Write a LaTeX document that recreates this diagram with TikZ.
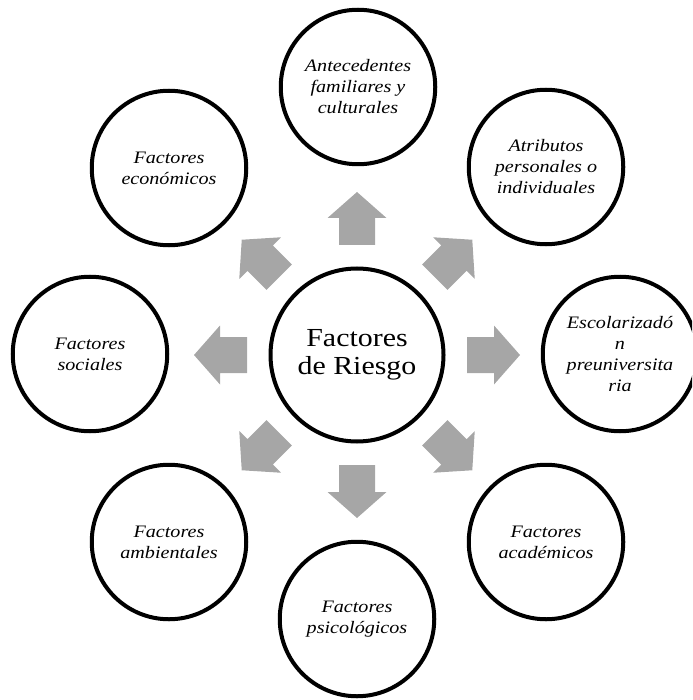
\documentclass[tikz,border=0pt]{standalone}
\usepackage{fontspec}
\setmainfont{Liberation Serif}[FakeStretch=1.15]
\definecolor{arrowgray}{RGB}{166,166,166}
\begin{document}
\begin{tikzpicture}[x=1pt,y=-1pt,
  bubble/.style={circle,draw=black,line width=4pt,minimum size=154.5pt,inner sep=0pt,align=center,font=\itshape\fontsize{17.5}{21}\selectfont},
  hub/.style={circle,draw=black,line width=4pt,minimum size=173pt,inner sep=0pt,align=center,font=\fontsize{26}{28}\selectfont},
  blockarrow/.style={fill=arrowgray}]
\useasboundingbox (0,0) rectangle (692,700);
\clip (0,0) rectangle (692,700);
\node[hub] (ctr) at (357,355) {Factores\\de Riesgo};
\node[bubble] (top) at (358,87) {Antecedentes\\familiares y\\culturales};
\node[bubble] (tr) at (546,167) {Atributos\\personales o\\individuales};
\node[bubble] (rt) at (620,354) {Escolarizadó\\n\\preuniversita\\ria};
\node[bubble] (br) at (546,542) {Factores\\académicos};
\node[bubble] (bt) at (357,619) {Factores\\psicológicos};
\node[bubble] (bl) at (169,542) {Factores\\ambientales};
\node[bubble] (lt) at (90,354) {Factores\\sociales};
\node[bubble] (tl) at (169,168) {Factores\\económicos};
\foreach \a in {0,45,...,315}{
  \fill[blockarrow, shift={(ctr.center)}, rotate=\a] (110,-18) -- (137,-18) -- (137,-29.5) -- (163,0) -- (137,29.5) -- (137,18) -- (110,18) -- cycle;
}
\end{tikzpicture}
\end{document}
